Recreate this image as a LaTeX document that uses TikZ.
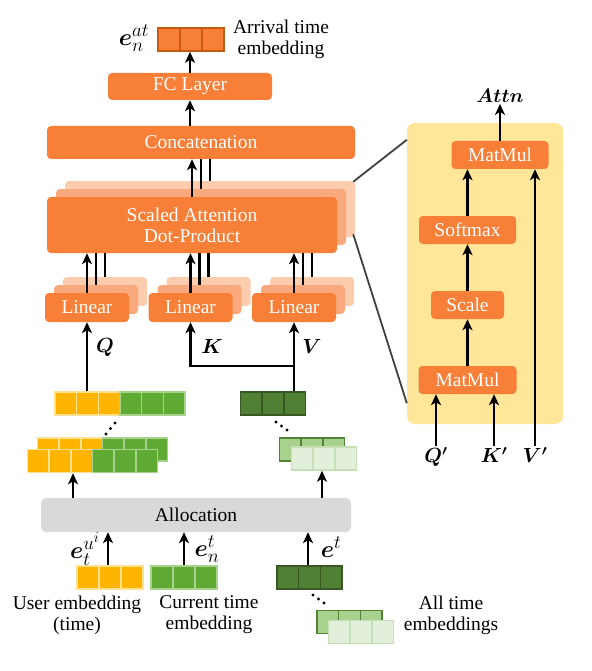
\RequirePackage{fix-cm}
\documentclass[tikz,border=0pt]{standalone}
\usepackage{amsmath}
\usepackage{fontspec}
\setmainfont{Liberation Serif}
\usepackage{tikz}
\usetikzlibrary{positioning, arrows.meta, calc}

\DeclareMathSizes{24}{24}{19}{15}

\definecolor{orng}{RGB}{247,127,55}
\definecolor{orngB}{RGB}{249,169,124}
\definecolor{orngC}{RGB}{251,204,173}
\definecolor{orngE}{RGB}{197,90,17}
\definecolor{panelyel}{RGB}{255,230,153}
\definecolor{allocgray}{RGB}{217,217,217}
\definecolor{yel}{RGB}{255,180,0}
\definecolor{yelE}{RGB}{255,226,145}
\definecolor{grn}{RGB}{94,170,50}
\definecolor{grnE}{RGB}{169,209,142}
\definecolor{dkgrn}{RGB}{80,128,52}
\definecolor{dkgrnE}{RGB}{56,87,35}
\definecolor{ltgrn}{RGB}{169,209,142}
\definecolor{ltgrnE}{RGB}{84,130,53}
\definecolor{pale}{RGB}{226,239,218}
\definecolor{paleE}{RGB}{197,224,180}
\definecolor{connc}{RGB}{64,64,64}

\begin{document}
\begin{tikzpicture}[x=1pt, y=-1pt,
  font=\fontsize{19.5}{21}\selectfont,
  blk/.style={fill=orng, rounded corners=4pt, text=white, inner sep=0pt, align=center},
  layB/.style={fill=orngB, rounded corners=4pt},
  layC/.style={fill=orngC, rounded corners=4pt},
  emb/.style 2 args={draw=#2, fill=#1, line width=1.6pt, minimum width=65pt,
    minimum height=23pt, inner sep=0pt,
    path picture={
      \foreach \k in {1,2}
        \draw[#2, line width=1.6pt]
          ($(path picture bounding box.north west)!\k/3!(path picture bounding box.north east)$) --
          ($(path picture bounding box.south west)!\k/3!(path picture bounding box.south east)$);
    }},
  arr/.style={-{Stealth[length=11pt, width=10pt, inset=3pt]}, line width=2.4pt},
  ln/.style={line width=2.4pt},
  conn/.style={connc, line width=1.8pt},
  mlbl/.style={inner sep=1pt, font=\fontsize{20.5}{22}\selectfont},
  elbl/.style={inner sep=0pt, font=\fontsize{24}{26}\selectfont},
  txt/.style={align=center, inner sep=0pt},
]
  \useasboundingbox (0,0) rectangle (591,671);

  % attention panel
  \node[fill=panelyel, rounded corners=8pt, minimum width=156pt, minimum height=301pt] (panel) at (485,273.5) {};
  \node[blk, minimum width=97pt, minimum height=28pt] (mm2) at (500,155) {MatMul};
  \node[blk, minimum width=97pt, minimum height=28pt] (sm) at (467.5,230) {Softmax};
  \node[blk, minimum width=73pt, minimum height=28pt] (sc) at (467.5,305) {Scale};
  \node[blk, minimum width=98pt, minimum height=28pt] (mm1) at (467.5,380) {MatMul};
  \node[inner sep=1pt] (attn) at (500,96) {$\boldsymbol{Attn}$};
  \node[mlbl, anchor=north] (qp) at (436,446) {$\boldsymbol{Q'}$};
  \node[mlbl, anchor=north] (kp) at (494,446) {$\boldsymbol{K'}$};
  \node[mlbl, anchor=north] (vp) at (535,446) {$\boldsymbol{V'}$};
  \draw[arr] (mm2.north) -- (attn.south);
  \draw[arr] (sm.north) -- (sm.north |- mm2.south);
  \draw[arr] (sc.north) -- (sm.south);
  \draw[arr] (mm1.north) -- (sc.south);
  \draw[arr] (qp.north) -- (qp.north |- mm1.south);
  \draw[arr] (kp.north) -- (kp.north |- mm1.south);
  \draw[arr] (vp.north) -- (vp.north |- mm2.south);

  % arrival time embedding
  \node[emb={orng}{orngE}, minimum width=66pt] (atemb) at (191,39.5) {};
  \node[elbl] (atlbl) at (134,38) {$\boldsymbol{e}_n^{at}$};
  \node[txt] (attxt) at (281,39) {Arrival time\\embedding};

  \node[blk, minimum width=164pt, minimum height=27pt] (fc) at (190,86.5) {FC Layer};
  \node[blk, minimum width=308pt, minimum height=33pt] (cat) at (201,142.5) {Concatenation};

  % scaled attention stack
  \node[layC, minimum width=290pt, minimum height=56pt] (sdpc) at (210,209) {};
  \node[layB, minimum width=290pt, minimum height=56pt] (sdpb) at (201,217) {};
  \node[blk, minimum width=290pt, minimum height=56pt] (sdp) at (192,225) {Scaled Attention\\Dot-Product};

  \draw[arr] (fc.north) -- (fc.north |- atemb.south);
  \draw[arr] (fc.south |- cat.north) -- (fc.south);
  \draw[arr] (sdp.north) -- (sdp.north |- cat.south);
  \draw[ln] (sdpb.north) -- (sdpb.north |- cat.south);
  \draw[ln] (sdpc.north) -- (sdpc.north |- cat.south);

  \draw[conn] ($(sdpc.north east)+(-2,1)$) -- ($(panel.north west)+(0,17)$);
  \draw[conn] ($(sdpc.south east)+(-2,-3)$) -- ($(panel.south west)+(0,-21)$);

  % linear stacks
  \foreach \n/\x in {1/87, 2/190.5, 3/294} {
    \node[layC, minimum width=84pt, minimum height=29pt] (lin\n c) at (\x+18,291.5) {};
    \node[layB, minimum width=84pt, minimum height=29pt] (lin\n b) at (\x+9,299.5) {};
    \node[blk, minimum width=84pt, minimum height=29pt] (lin\n) at (\x,307.5) {Linear};
    \draw[arr] (lin\n.north) -- (lin\n.north |- sdp.south);
    \draw[ln] (lin\n b.north) -- (lin\n b.north |- sdp.south);
    \draw[ln] (lin\n c.north) -- (lin\n c.north |- sdp.south);
  }

  % query / key / value embeddings
  \node[emb={yel}{yelE}] (ry) at (87.5,403.5) {};
  \node[emb={grn}{grnE}] (rg) at (152.5,403.5) {};
  \node[emb={dkgrn}{dkgrnE}] (dk) at (273,403.5) {};

  \node[mlbl] (qlbl) at (105,347) {$\boldsymbol{Q}$};
  \node[mlbl] (klbl) at (212,346) {$\boldsymbol{K}$};
  \node[mlbl] (vlbl) at (312,346) {$\boldsymbol{V}$};
  \coordinate (kv) at (lin3.south |- 0,366);
  \draw[arr] (ry.north -| lin1.south) -- (lin1.south);
  \draw[arr] (dk.north -| lin3.south) -- (lin3.south);
  \draw[arr] (kv) -| (lin2.south);

  % dots
  \foreach \p in {(106,434),(110.5,428.5),(115,423),
                  (276,422),(281.5,426),(287,430),
                  (313,595),(318.5,599),(324,603)}
    \fill \p circle (1.7pt);

  % allocated embeddings
  \node[emb={yel}{yelE}] (byl) at (70,449.5) {};
  \node[emb={grn}{grnE}] (bgr) at (135,449.5) {};
  \node[emb={yel}{yelE}] (fyl) at (60,461) {};
  \node[emb={grn}{grnE}] (fgr) at (125,461) {};
  \node[emb={ltgrn}{ltgrnE}] (bkt) at (312,449.5) {};
  \node[emb={pale}{paleE}] (fkt) at (324,458.5) {};

  \node[fill=allocgray, rounded corners=5pt, minimum width=310pt, minimum height=34pt, inner sep=0pt] (alloc) at (196,515) {Allocation};
  \coordinate (inL) at ($(fyl.south)+(13,0)$);
  \coordinate (inR) at ($(fkt.south)+(-2,0)$);
  \draw[arr] (alloc.north -| inL) -- (inL);
  \draw[arr] (alloc.north -| inR) -- (inR);

  % inputs
  \node[emb={yel}{yelE}, minimum width=66pt] (uemb) at (110,577.5) {};
  \node[emb={grn}{grnE}, minimum width=66pt] (cemb) at (184,577.5) {};
  \node[emb={dkgrn}{dkgrnE}] (temb) at (309.5,577.5) {};
  \node[emb={ltgrn}{ltgrnE}] (tb) at (349.5,622) {};
  \node[emb={pale}{paleE}] (tf) at (361,632) {};

  \draw[arr] (uemb.north -| 108,0) -- (alloc.south -| 108,0);
  \draw[arr] (cemb.north) -- (cemb.north |- alloc.south);
  \draw[arr] (temb.north -| 308,0) -- (alloc.south -| 308,0);

  \node[elbl] (ulbl) at (85,549) {$\boldsymbol{e}_t^{u^i}$};
  \node[elbl] (clbl) at (207,549) {$\boldsymbol{e}_n^t$};
  \node[elbl] (tlbl) at (331,547) {$\boldsymbol{e}^t$};

  \node[txt] (utxt) at (77,615) {User embedding\\(time)};
  \node[txt] (ctxt) at (209,615) {Current time\\embedding};
  \node[txt] (ttxt) at (451,615) {All time\\embeddings};
\end{tikzpicture}
\end{document}
